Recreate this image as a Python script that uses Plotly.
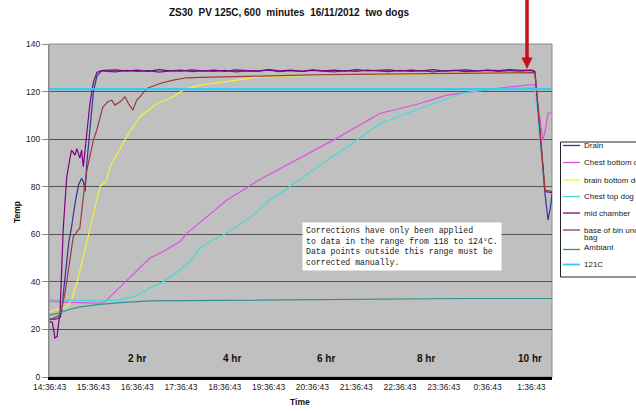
import plotly.graph_objects as go

# ---------------- data (time in hours after 14:36:43, temperature in C) ----------------
tick_hours = [0, 1, 2, 3, 4, 5, 6, 7, 8, 9, 10, 11]
tick_labels = ["14:36:43", "15:36:43", "16:36:43", "17:36:43", "18:36:43", "19:36:43",
               "20:36:43", "21:36:43", "22:36:43", "23:36:43", "0:36:43", "1:36:43"]

top_hours = [1.25, 1.5, 1.75, 2.0, 2.25, 2.5, 2.75, 3.0, 3.25, 3.5, 3.75, 4.0, 4.25, 4.5,
             4.75, 5.0, 5.25, 5.5, 5.75, 6.0, 6.25, 6.5, 6.75, 7.0, 7.25, 7.5, 7.75, 8.0,
             8.25, 8.5, 8.75, 9.0, 9.25, 9.5, 9.75, 10.0, 10.25, 10.5, 10.75, 11.0]

drain_h = [0, 0.12, 0.24, 0.28, 0.33, 0.39, 0.44, 0.50, 0.58, 0.66, 0.73, 0.77, 0.81,
           0.85, 0.92, 1.0, 1.08, 1.19] + top_hours + [11.08, 11.2, 11.31, 11.38, 11.44, 11.47]
drain_t = [24.5, 24.2, 25, 28, 38, 48, 57, 63, 73, 80.7, 83.6, 82, 78, 90, 104, 120, 126.5,
           128.8,
           128.6, 128.3, 128.9, 128.5, 128.8, 128.2, 128.7, 129.0, 128.4, 128.8, 128.5, 128.9,
           128.3, 128.7, 128.6, 129.0, 128.4, 128.8, 128.5, 128.9, 128.6, 128.3, 128.8, 128.5,
           129.0, 128.6, 128.4, 128.9, 128.5, 128.8, 128.3, 128.7, 128.9, 128.4, 128.6, 128.9,
           128.5, 128.8, 128.6, 128.9,
           128.2, 100, 77, 66, 72, 77]

chest_bottom_h = [0, 0.24, 0.69, 1.15, 1.26, 1.61, 1.95, 2.29, 2.52, 2.75, 2.98, 3.14, 3.43,
                  4.05, 4.80, 5.72, 6.52, 7.54, 8.46, 9.07, 9.83, 10.51, 11.08, 11.15, 11.26,
                  11.32, 11.38, 11.47]
chest_bottom_t = [32, 31.6, 31.3, 31, 31.6, 38, 44, 50, 52, 54.6, 57, 60.5, 65,
                  74.4, 83, 92, 100, 110.8, 115, 118.5, 120.5, 122, 123, 115, 99.6,
                  104, 111, 111]

brain_h = [0, 0.39, 0.50, 0.62, 0.77, 0.92, 1.04, 1.15, 1.26, 1.30, 1.38, 1.61, 1.76, 2.06,
           2.45, 2.82, 3.05, 3.43, 3.89, 4.35, 4.80, 6.0, 7.5, 9.0, 10.5, 11.08, 11.2, 11.31,
           11.47]
brain_t = [27.5, 29.5, 32.4, 39.4, 50.6, 61.8, 71.6, 80, 82, 82.8, 88.4, 96, 101, 109.4,
           115, 117.8, 120.6, 122.7, 124, 125, 126.2, 126.8, 127.2, 127.5, 127.8, 128, 103, 78,
           78]

chest_top_h = [0, 0.69, 1.15, 1.61, 1.95, 2.29, 2.59, 2.98, 3.21, 3.43, 3.66, 4.05, 4.58,
               5.03, 5.72, 6.40, 6.97, 7.54, 8.46, 9.44, 10.05, 11.08, 11.2, 11.31, 11.47]
chest_top_t = [32.5, 32.3, 32, 32.3, 34, 37.4, 40, 45, 49, 54, 57, 60.5, 67,
               74.4, 83, 92, 99, 106.5, 113, 119.4, 121, 121.8, 100, 78.5, 78]

mid_h = [0, 0.06, 0.10, 0.12, 0.17, 0.24, 0.31, 0.39, 0.47, 0.50, 0.58, 0.62, 0.69, 0.73,
         0.77, 0.85, 0.92, 1.0, 1.08, 1.15] + top_hours + [11.08, 11.2, 11.31, 11.47]
mid_t = [23.3, 23, 19, 16.4, 17, 28, 62, 84, 92.6, 95.4, 93.3, 96, 92, 95.4,
         88.4, 103.8, 115, 124, 128, 128.6,
         128.9, 129.1, 128.6, 129.0, 128.5, 129.2, 128.7, 128.6, 129.1, 128.6, 129.0, 128.5,
         129.1, 128.8, 128.6, 129.2, 128.7, 129.0, 128.5, 129.1, 128.7, 129.0, 128.6, 129.2,
         128.7, 128.9, 129.1, 128.6, 129.0, 128.7, 129.2, 128.6, 128.8, 129.1, 128.7, 129.0,
         128.8, 129.2, 128.9, 129.0,
         128.5, 102, 78, 77.5]

base_h = [0, 0.24, 0.35, 0.47, 0.54, 0.62, 0.69, 0.77, 0.85, 1.0, 1.08, 1.19, 1.22, 1.33,
          1.42, 1.49, 1.61, 1.72, 1.80, 1.90, 1.99, 2.06, 2.22, 2.52, 2.82, 3.13, 3.43, 4.80,
          6.0, 7.5, 9.0, 10.5, 11.08, 11.2, 11.31, 11.47]
base_t = [24, 26, 35, 50.6, 59, 61, 62.6, 75.8, 87, 99.6, 104, 112, 113.6, 115.7,
          116.4, 114.3, 115.7, 117.8, 115, 112.2, 116.4, 117.8, 121.3, 123.4, 124.8, 125.8, 126,
          126.5, 127, 127.3, 127.6, 127.9, 128, 103, 78.5, 78]

ambient_h = [0, 0.24, 0.47, 0.69, 1.15, 1.61, 2.29, 3.43, 5.0, 6.4, 8.0, 9.5, 11.47]
ambient_t = [26, 27, 28.5, 29.5, 30.5, 31.3, 32, 32.2, 32.3, 32.6, 32.8, 33, 33]

ref_h = [0, 11.47]
ref_t = [121, 121]

series_names = ["Drain", "Chest bottom dog", "brain bottom dog", "Chest top dog",
                "mid chamber", "base of bin under bag", "Ambiant", "121C"]
series_colors = ["#33339a", "#e050e0", "#f2f23a", "#40dcd8", "#800080", "#9a3a3a",
                 "#2f9090", "#38c8f5"]
series_widths = [1.2, 1.2, 1.2, 1.2, 1.2, 1.2, 1.2, 2.2]

hr_labels = ["2 hr", "4 hr", "6 hr", "8 hr", "10 hr"]
hr_pos = [2.0, 4.17, 6.31, 8.59, 10.97]

# ---------------- layout helpers ----------------
WIDTH, HEIGHT = 636, 411
L, R, T, B = 49, 552, 44, 377


def px(x):
    return (x - L) / (R - L)


def py(y):
    return (B - y) / (B - T)


FONT = "Liberation Sans, Arial, sans-serif"

fig = go.Figure()
xs = [drain_h, chest_bottom_h, brain_h, chest_top_h, mid_h, base_h, ambient_h, ref_h]
ys = [drain_t, chest_bottom_t, brain_t, chest_top_t, mid_t, base_t, ambient_t, ref_t]
for name, xv, yv, c, w in zip(series_names, xs, ys, series_colors, series_widths):
    fig.add_trace(go.Scatter(x=xv, y=yv, mode="lines", name=name,
                             line=dict(color=c, width=w), showlegend=False,
                             hoverinfo="skip"))

shapes = []
annotations = []

# title and axis titles
annotations.append(dict(xref="paper", yref="paper", x=px(289), y=py(13), showarrow=False,
                        text="<b>ZS30  PV 125C, 600  minutes  16/11/2012  two dogs</b>",
                        font=dict(family=FONT, size=10, color="#111"),
                        xanchor="center", yanchor="middle"))
annotations.append(dict(xref="paper", yref="paper", x=px(300), y=py(402), showarrow=False,
                        text="<b>Time</b>", font=dict(family=FONT, size=8.5, color="#111"),
                        xanchor="center", yanchor="middle"))
annotations.append(dict(xref="paper", yref="paper", x=px(17), y=py(212), showarrow=False,
                        text="<b>Temp</b>", textangle=-90,
                        font=dict(family=FONT, size=8.5, color="#111"),
                        xanchor="center", yanchor="middle"))

# hour markers inside the plot
for lab, h in zip(hr_labels, hr_pos):
    annotations.append(dict(x=h, y=7.6, xref="x", yref="y", showarrow=False,
                            text="<b>" + lab + "</b>",
                            font=dict(family=FONT, size=10, color="#111"),
                            xanchor="center", yanchor="middle"))

# note box
annotations.append(dict(xref="paper", yref="paper", x=px(302), y=py(246), showarrow=False,
                        xanchor="left", yanchor="middle", align="left",
                        text="Corrections have only been applied<br>"
                             "to data in the range from 118 to 124\u00b0C.<br>"
                             "Data points outside this range must be<br>"
                             "corrected manually.",
                        font=dict(family="Liberation Mono, Courier New, monospace", size=8.2,
                                  color="#222"),
                        bgcolor="white", borderpad=3))

# legend (drawn manually so that it can run past the right edge, as in the reference)
shapes.append(dict(type="rect", xref="paper", yref="paper", x0=px(560.5), x1=px(645),
                   y0=py(277), y1=py(142), line=dict(color="#222", width=1),
                   fillcolor="white", layer="above"))
leg_y = [145.5, 162.5, 180, 196.5, 213, 230, 247.5, 264.5]
for name, c, w, yy in zip(series_names, series_colors, series_widths, leg_y):
    ly = yy + 2 if name == "Ambiant" else yy
    shapes.append(dict(type="line", xref="paper", yref="paper", x0=px(563), x1=px(580),
                       y0=py(ly), y1=py(ly), line=dict(color=c, width=1.3 if w < 2 else 1.8),
                       layer="above"))
    txt = "base of bin under" if name == "base of bin under bag" else name
    annotations.append(dict(xref="paper", yref="paper", x=px(582), y=py(yy), showarrow=False,
                            text=txt, font=dict(family=FONT, size=8, color="#222"),
                            xanchor="left", yanchor="middle"))
annotations.append(dict(xref="paper", yref="paper", x=px(582), y=py(237.5), showarrow=False,
                        text="bag", font=dict(family=FONT, size=8, color="#222"),
                        xanchor="left", yanchor="middle"))

# red arrow pointing to the end of the cycle
shapes.append(dict(type="line", xref="paper", yref="paper", x0=px(527), x1=px(527),
                   y0=py(-2), y1=py(59), line=dict(color="#c8101a", width=3.5), layer="above"))
shapes.append(dict(type="path", xref="paper", yref="paper",
                   path="M {a},{b} L {c},{b} L {d},{e} Z".format(
                       a=px(521.5), b=py(57.5), c=px(532.5), d=px(527), e=py(69)),
                   fillcolor="#c8101a", line=dict(color="#c8101a", width=0), layer="above"))

# plot-area outline
shapes.append(dict(type="rect", xref="paper", yref="paper", x0=0, x1=1, y0=0, y1=1,
                   line=dict(color="#8a8a8a", width=1), layer="below"))

fig.update_layout(
    width=WIDTH, height=HEIGHT,
    margin=dict(l=L, r=WIDTH - R, t=T, b=HEIGHT - B, pad=0),
    paper_bgcolor="white", plot_bgcolor="#c0c0c0",
    showlegend=False,
    shapes=shapes, annotations=annotations,
    xaxis=dict(range=[-0.014, 11.47], tickmode="array", tickvals=tick_hours,
               ticktext=tick_labels, tickfont=dict(family=FONT, size=8.5, color="#222"),
               showgrid=False, zeroline=False, showline=True, linecolor="black",
               linewidth=3, ticks="", fixedrange=True),
    yaxis=dict(range=[0, 140], tickmode="linear", tick0=0, dtick=20,
               tickfont=dict(family=FONT, size=8.5, color="#222"),
               showgrid=True, gridcolor="#555555", gridwidth=1, zeroline=False,
               showline=True, linecolor="#8a8a8a", linewidth=1,
               ticks="outside", ticklen=6, tickcolor="#8a8a8a", fixedrange=True),
)

fig.write_html("out.html", config={"displayModeBar": False},
               post_script="document.body.style.margin='0';document.body.style.overflow='hidden';")
